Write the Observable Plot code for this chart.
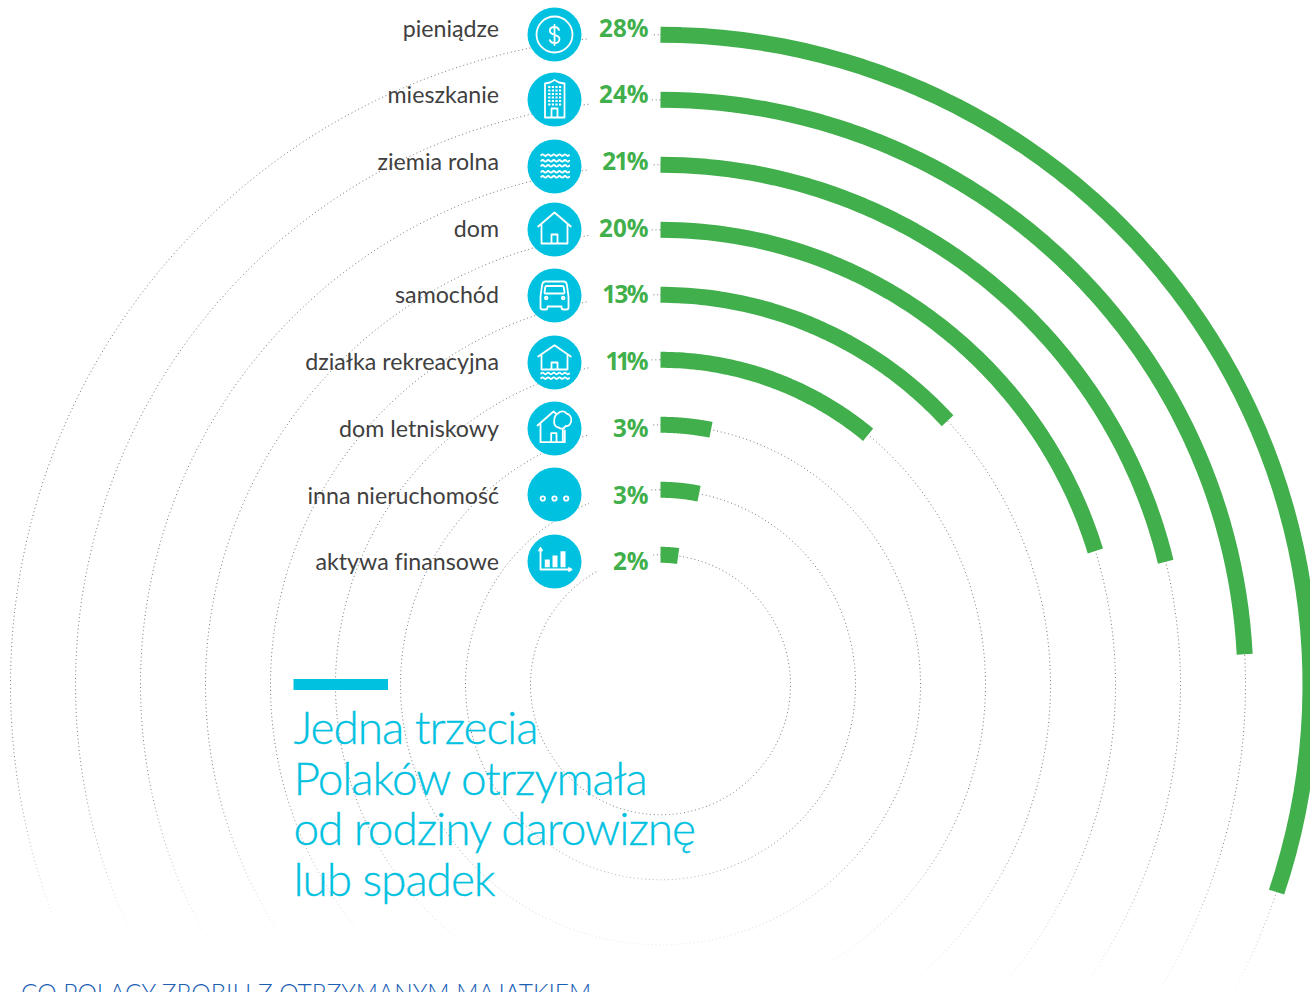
<!DOCTYPE html>
<html lang="pl">
<head>
<meta charset="utf-8">
<script src="https://cdn.jsdelivr.net/npm/d3@7"></script>
<script src="https://cdn.jsdelivr.net/npm/@observablehq/plot@0.6"></script>
<style>
html,body{margin:0;padding:0;background:#fff;overflow:hidden;}
svg{display:block;}
svg text{font-variant-ligatures:none;}
</style>
</head>
<body>
<div id="chart"></div>
<script>
// ---- values ----
const categories = ["pieniądze","mieszkanie","ziemia rolna","dom","samochód","działka rekreacyjna","dom letniskowy","inna nieruchomość","aktywa finansowe"];
const shares = [28,24,21,20,13,11,3,3,2];
const sweepDegrees = [108.6,87,76.3,72.9,47.4,39.7,11.2,11.4,7.8];
const headingLines = ["Jedna trzecia","Polaków otrzymała","od rodziny darowiznę","lub spadek"];
const nextSection = "CO POLACY ZROBILI Z OTRZYMANYM MAJĄTKIEM";

const wave = (x, y, n) => `<path stroke-width="1.800" d="M${x} ${y}q1.400-1.600 2.800 0` + "t2.800 0".repeat(n) + `"/>`;
const iconBodies = [
  `<circle cx="27" cy="27" r="18"/><path d="M31.500 22.500c-.6-1.900-2.300-3-4.500-3-2.800 0-4.700 1.600-4.700 3.800 0 5.400 9.700 2.900 9.700 8.300 0 2.300-2 4-4.900 4-2.300 0-4.100-1.100-4.800-3M27 17.500v20"/>`,
  `<path d="M17.500 45V11l5-1 4.500-2.500L31.500 10l5.500 1v34zM24 45v-9h6v9z"/><path stroke-linecap="butt" stroke-width="2.200" stroke-dasharray="2.200 1.400" d="M20.700 14.500h14M20.700 18h14M20.700 21.500h14M20.700 25h14M20.700 28.500h14M20.700 32h14"/>`,
  [15.700,21.300,26.300,32.300,37.300].map(y => wave(13.700, y, 9)).join(""),
  `<path d="M10.700 24 27 10l16.300 14M14 21v20h26V21M24 41v-9h6v9"/>`,
  `<path d="M18 13h18q3 0 3.500 4l1.500 11v11q0 2-2 2h-3q-2 0-2-2v-1H20v1q0 2-2 2h-3q-2 0-2-2V28l1.500-11q.5-4 3.500-4zM19 17.500h16q1 0 1.200 1l.8 5.500q0 1-1 1H18q-1 0-1-1l.8-5.500q.2-1 1.200-1z"/><circle cx="18.700" cy="29.500" r="1.300"/><circle cx="35.700" cy="29.500" r="1.300"/>`,
  `<path d="M10.700 21 27 9.700 43.300 21M14 19v15h26V19M24 34v-7h6v7"/>` + wave(13.700, 38, 9) + wave(13.700, 42.700, 9),
  `<path d="M10 24 26 10l3 2.500M13 21.500v19.200h24.300V29M23.700 40.700v-9h5.300v9M35.300 40.700V28"/><path d="M31 11.500c2.500-2.500 6.500-2 8 .5 3 .5 5.500 4 4.700 7.500-.3 3-2.700 5.500-5.500 5-1.700 3-5 3.500-7 1.500-3-.2-5-3-4.500-6-.2-3.500 1.300-7 4.300-8.500z"/>`,
  `<circle cx="15.300" cy="31" r="2.200"/><circle cx="27" cy="31" r="2.200"/><circle cx="38.700" cy="31" r="2.200"/>`,
  `<path d="M13 13.500V35h31M11.500 16l1.500-2.500 1.500 2.500M41.500 33.500 44 35l-2.500 1.500"/><path fill="#fff" stroke="none" d="M17.300 25h5v7.700h-5zM25 21h5v11.700h-5zM33 16.700h5v16h-5z"/>`
];
const iconSrc = body => "data:image/svg+xml;utf8," + encodeURIComponent(
  `<svg xmlns="http://www.w3.org/2000/svg" width="54" height="54" viewBox="0 0 54 54" fill="none" stroke="#fff" stroke-width="1.800" stroke-linejoin="round" stroke-linecap="round">${body}</svg>`);

// ---- layout: polar frame measured in ring widths ----
const unit = 65, cx = 660, cy = 684.3;
const xu = p => (p - cx) / unit;
const yu = p => (cy - p) / unit;
const radius = i => (shares.length - 1 - i) + 2;
const polar = (i, deg) => {
  const a = deg * Math.PI / 180;
  return {i, x: radius(i) * Math.sin(a), y: radius(i) * Math.cos(a)};
};
const labelNudge = [0,-.6,0,.2,-.5,0,.5,1,.3];
const labelY = i => yu(29 + 66.6 * i + labelNudge[i]);
const iconNudge = [1,0,1,-2,-2,-1,-1,-1,0];
const iconY = i => yu(33 + 66 * i + iconNudge[i]);

const rows = categories.map((name, i) => ({name, i, share: shares[i], label: shares[i] + "%", icon: iconSrc(iconBodies[i])}));
const ringPoints = rows.flatMap(r => d3.range(0, 361, 1).map(a => polar(r.i, a)));
const barPoints = rows.flatMap(r => d3.range(0, sweepDegrees[r.i] + 0.001, sweepDegrees[r.i] / 60).map(a => polar(r.i, a)));

const defs = () => {
  const d = d3.create("svg:defs");
  const g = d.append("linearGradient").attr("id", "ringFade").attr("gradientUnits", "userSpaceOnUse")
    .attr("x1", 660).attr("y1", 800).attr("x2", 650).attr("y2", 965);
  g.append("stop").attr("offset", 0).attr("stop-color", "#777");
  g.append("stop").attr("offset", 1).attr("stop-color", "#777").attr("stop-opacity", 0.04);
  return d.node();
};

const cyan = "#00C1E0", green = "#41AF4B";
const chart = Plot.plot({
  width: 1310, height: 992, margin: 0,
  x: {axis: null, domain: [xu(0), xu(1310)], range: [0, 1310]},
  y: {axis: null, domain: [yu(992), yu(0)], range: [992, 0]},
  marks: [
    defs,
    Plot.line(ringPoints, {x: "x", y: "y", z: "i", stroke: "url(#ringFade)", strokeWidth: 1, strokeDasharray: "1 2.8", strokeLinecap: "butt"}),
    Plot.rect(rows, {x1: r => xu(r.i === 8 ? 597 : 589), x2: xu(651), y1: r => labelY(r.i) - 11/unit, y2: r => labelY(r.i) + 16/unit, fill: "#fff"}),
    Plot.line(barPoints, {x: "x", y: "y", z: "i", stroke: green, strokeWidth: 16, strokeLinecap: "butt", strokeLinejoin: "miter"}),
    Plot.dot(rows, {x: xu(554), y: r => iconY(r.i), r: 27, fill: cyan}),
    Plot.image(rows, {x: xu(554), y: r => iconY(r.i), width: 54, height: 54, src: "icon"}),
    Plot.text(rows, {x: xu(498.5), y: r => labelY(r.i), text: "name", textAnchor: "end", fill: "#404040", fontFamily: "Lato", fontSize: 23.2, fontWeight: 400}),
    Plot.text(rows, {x: xu(648), y: r => labelY(r.i), text: "label", textAnchor: "end", fill: green, fontFamily: "Open Sans", fontSize: 24.2, fontWeight: 700, className: "pct"}),
    Plot.rect([0], {x1: xu(293.5), x2: xu(388), y1: yu(690), y2: yu(679), fill: cyan}),
    Plot.text(headingLines, {x: xu(293), y: (d, i) => yu(729 + 50.5 * i), text: d => d, textAnchor: "start", fill: cyan, stroke: cyan, strokeWidth: 0.3, fontFamily: "Lato", fontWeight: 300, fontSize: 46, className: "heading"}),
    Plot.text([nextSection], {x: xu(20.5), y: yu(993.5), text: d => d, textAnchor: "start", fill: "#1b5fb4", fontFamily: "Lato", fontWeight: 300, fontSize: 24.5})
  ]
});
d3.select(chart).selectAll(".heading text").style("letter-spacing", "-1.05px");
// the reference's digit "1" is narrow: tighten the percent labels that contain it
d3.select(chart).selectAll(".pct text").each(function() {
  const ones = (this.textContent.match(/1/g) || []).length;
  if (ones) d3.select(this).style("letter-spacing", `${-1.6 * ones}px`).attr("dx", -1.6 * ones);
});
document.getElementById("chart").append(chart);
</script>
</body>
</html>
